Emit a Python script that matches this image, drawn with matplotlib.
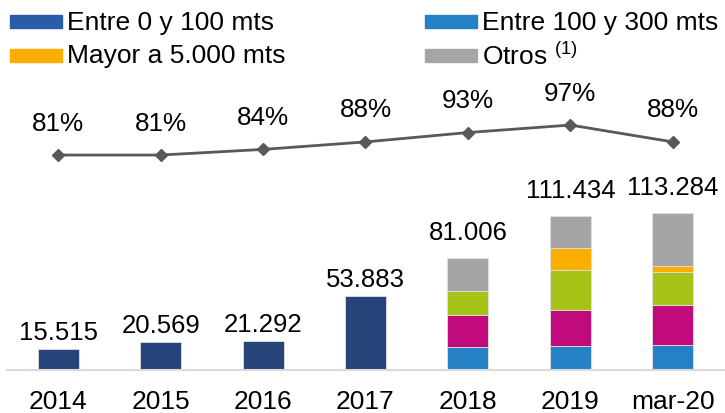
import matplotlib.pyplot as plt
from matplotlib.patches import Rectangle

plt.rcParams['font.family'] = ['Liberation Sans', 'DejaVu Sans']
plt.rcParams['mathtext.fontset'] = 'custom'
plt.rcParams['mathtext.rm'] = 'Liberation Sans'

# data
years = ['2014', '2015', '2016', '2017', '2018', '2019', 'mar-20']
totals = [15515, 20569, 21292, 53883, 81006, 111434, 113284]
hist_total = [15515, 20569, 21292, 53883, 0, 0, 0]
s_100_300 = [0, 0, 0, 0, 16500, 17400, 18000]
s_magenta = [0, 0, 0, 0, 23000, 26000, 28800]
s_green = [0, 0, 0, 0, 17500, 28900, 23800]
s_mayor = [0, 0, 0, 0, 0, 15900, 5000]
s_otros = [0, 0, 0, 0, 24006, 23234, 37684]
pct = [81, 81, 84, 88, 93, 97, 88]

legend_labels = ['Entre 0 y 100 mts', 'Entre 100 y 300 mts',
                 'Mayor a 5.000 mts', 'Otros $^{(1)}$']
legend_colors = ['#2A5CA8', '#2581C4', '#F9AE00', '#A5A5A5']

W, H = 725, 414
fig = plt.figure(figsize=(W / 100, H / 100), dpi=100)
ax = fig.add_axes([7 / W, 43 / H, 717 / W, 286 / H])
ax2 = ax.twinx()

x = range(len(years))
bw = 0.4
ec = dict(edgecolor='#e0e0e0', linewidth=0.6)
ax.bar(x, hist_total, bw, color='#26447A', **ec)
bottom = [0] * len(years)
for vals, col in [(s_100_300, '#2581C4'), (s_magenta, '#C10A7B'),
                  (s_green, '#A6C318'), (s_mayor, '#F9AE00'),
                  (s_otros, '#A5A5A5')]:
    ax.bar(x, vals, bw, bottom=bottom, color=col, **ec)
    bottom = [b + v for b, v in zip(bottom, vals)]

for i, t in enumerate(totals):
    off = 17 if hist_total[i] else 26
    ax.annotate(f'{t:,}'.replace(',', '.'), (i, t), xytext=(0, off * 0.72),
                textcoords='offset points', ha='center', va='center',
                fontsize=18.5)

ax.set_xlim(-0.5, len(years) - 0.5)
ax.set_ylim(0, 286 * 723.6)
ax2.set_ylim(-33.7, 118.9)

ax2.plot(x, pct, color='#595959', lw=2, marker='D', ms=6.5)
for i, p in enumerate(pct):
    ax2.annotate(f'{p}%', (i, p), xytext=(0, 32.5 * 0.72),
                 textcoords='offset points', ha='center', va='center',
                 fontsize=18.8)

for a in (ax, ax2):
    for s in a.spines.values():
        s.set_visible(False)
    a.set_yticks([])
ax.spines['bottom'].set_visible(True)
ax.spines['bottom'].set_color('#D9D9D9')
ax.spines['bottom'].set_linewidth(1.5)
ax.set_xticks(list(x))
ax.set_xticklabels(years, fontsize=19)
ax.tick_params(axis='x', length=0, pad=14)
ax2.tick_params(length=0)

# legend
pos = [(10, 22.7), (425, 22.7), (10, 56), (425, 56)]
for (px, py), lab, col in zip(pos, legend_labels, legend_colors):
    fig.patches.append(Rectangle((px / W, (H - py - 6.5) / H), 52 / W, 13 / H,
                                 transform=fig.transFigure, color=col))
    fig.text((px + 57) / W, (H - py) / H, lab, fontsize=19, va='center',
             ha='left')

fig.savefig('out.png', dpi=100)
